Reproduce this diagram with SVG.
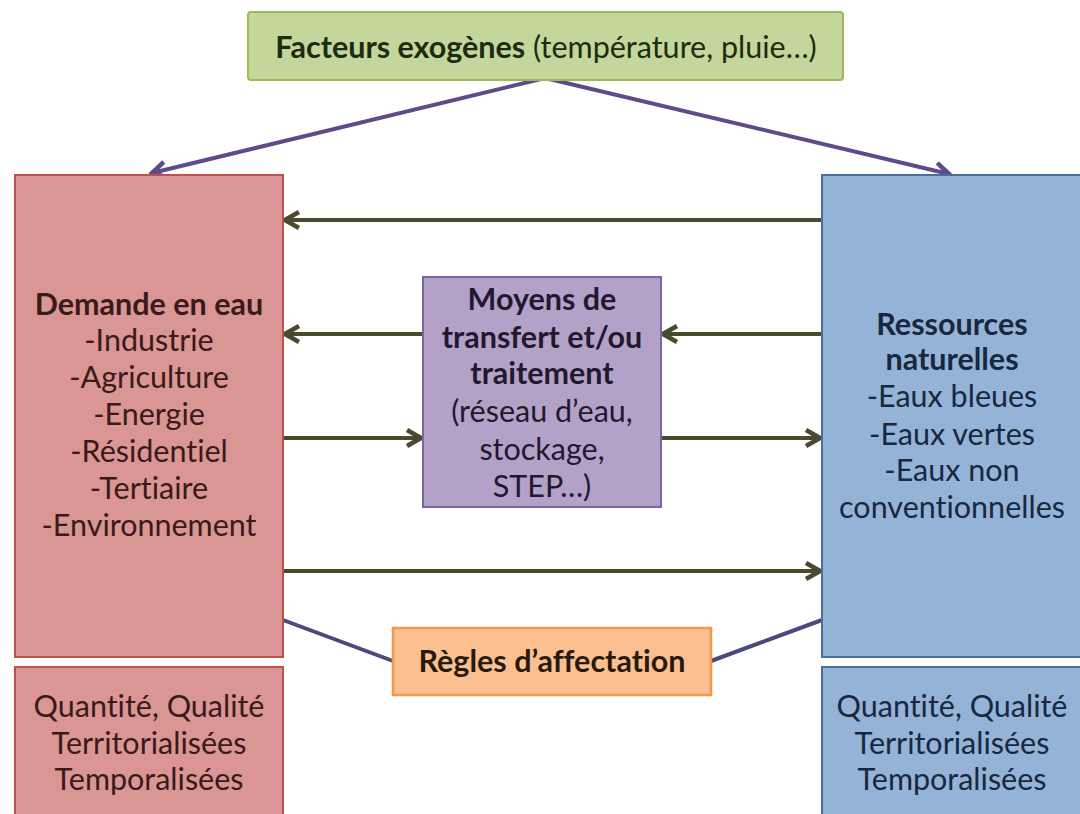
<svg xmlns="http://www.w3.org/2000/svg" width="1080" height="814" viewBox="0 0 1080 814">
<defs>
<style>
text{font-family:Lato,"Open Sans","DejaVu Sans",sans-serif;font-size:30.5px;text-anchor:middle;font-variant-ligatures:none}
.b{font-weight:bold}
.red rect{fill:#d99694;stroke:#c0504d;stroke-width:2}
.red text{fill:#3a1a1a}
.blue rect{fill:#95b3d7;stroke:#4a6f9e;stroke-width:2}
.blue text{fill:#17283f}
.ol{stroke:#4b4a2e;stroke-width:4;fill:none}
.pu{stroke:#5f4b8b;stroke-width:4;fill:none}
.nv{stroke:#4a4a7e;stroke-width:4;fill:none}
</style>
<marker id="ao" viewBox="0 0 20 22" refX="17" refY="11" markerWidth="20" markerHeight="22" markerUnits="userSpaceOnUse" orient="auto">
<path d="M3,3 L17,11 L3,19" fill="none" stroke="#4b4a2e" stroke-width="4.5"/>
</marker>
<marker id="ap" viewBox="0 0 20 22" refX="17" refY="11" markerWidth="20" markerHeight="22" markerUnits="userSpaceOnUse" orient="auto">
<path d="M3,3 L17,11 L3,19" fill="none" stroke="#5f4b8b" stroke-width="4.5"/>
</marker>
</defs>
<rect width="1080" height="814" fill="#ffffff"/>

<g id="connectors">
<line class="pu" x1="545" y1="78" x2="152" y2="173" marker-end="url(#ap)"/>
<line class="pu" x1="545" y1="78" x2="949" y2="174" marker-end="url(#ap)"/>
<line class="ol" x1="822" y1="220" x2="285" y2="220" marker-end="url(#ao)"/>
<line class="ol" x1="423" y1="334" x2="285" y2="334" marker-end="url(#ao)"/>
<line class="ol" x1="822" y1="334" x2="663" y2="334" marker-end="url(#ao)"/>
<line class="ol" x1="283" y1="438" x2="421" y2="438" marker-end="url(#ao)"/>
<line class="ol" x1="661" y1="438" x2="820" y2="438" marker-end="url(#ao)"/>
<line class="ol" x1="283" y1="571" x2="820" y2="571" marker-end="url(#ao)"/>
<line class="nv" x1="283" y1="620" x2="393" y2="661"/>
<line class="nv" x1="711" y1="661" x2="822" y2="620"/>
</g>

<g id="facteurs">
<rect x="248" y="12" width="595" height="68" rx="3" fill="#c3d69b" stroke="#9bbb59" stroke-width="2"/>
<text x="546" y="58" fill="#1f2a10"><tspan class="b">Facteurs exogènes</tspan> (température, pluie…)</text>
</g>

<g id="demande" class="red">
<rect x="15" y="175" width="268" height="482"/>
<text x="149" y="315" class="b">Demande en eau</text>
<text x="149" y="351">-Industrie</text>
<text x="149" y="388">-Agriculture</text>
<text x="149" y="425">-Energie</text>
<text x="149" y="462">-Résidentiel</text>
<text x="149" y="499">-Tertiaire</text>
<text x="149" y="536">-Environnement</text>
</g>

<g id="demande-attr" class="red">
<rect x="15" y="667" width="268" height="160"/>
<text x="149" y="717">Quantité, Qualité</text>
<text x="149" y="754">Territorialisées</text>
<text x="149" y="790">Temporalisées</text>
</g>

<g id="ressources" class="blue">
<rect x="822" y="175" width="270" height="482"/>
<text x="952" y="335" class="b">Ressources</text>
<text x="952" y="370" class="b">naturelles</text>
<text x="952" y="407">-Eaux bleues</text>
<text x="952" y="445">-Eaux vertes</text>
<text x="952" y="481">-Eaux non</text>
<text x="952" y="518">conventionnelles</text>
</g>

<g id="ressources-attr" class="blue">
<rect x="822" y="667" width="270" height="160"/>
<text x="952" y="717">Quantité, Qualité</text>
<text x="952" y="754">Territorialisées</text>
<text x="952" y="790">Temporalisées</text>
</g>

<g id="moyens">
<rect x="423" y="277" width="238" height="230" fill="#b3a2c7" stroke="#8064a2" stroke-width="2"/>
<g fill="#22182f">
<text x="542" y="310" class="b">Moyens de</text>
<text x="542" y="348" class="b">transfert et/ou</text>
<text x="542" y="384" class="b">traitement</text>
<text x="542" y="422">(réseau d’eau,</text>
<text x="542" y="460">stockage,</text>
<text x="542" y="497">STEP…)</text>
</g>
</g>

<g id="regles">
<rect x="393" y="628" width="318" height="67" fill="#fac090" stroke="#f79646" stroke-width="2.5"/>
<text x="552" y="672" class="b" fill="#2a1a0e">Règles d’affectation</text>
</g>
</svg>
